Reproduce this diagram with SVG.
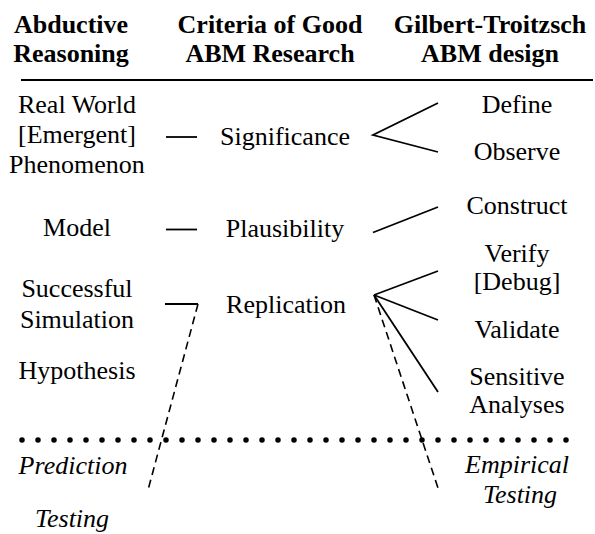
<svg xmlns="http://www.w3.org/2000/svg" width="595" height="534" viewBox="0 0 595 534">
<style>
text{font-size:26px;fill:#000;text-anchor:middle}
.h{font-weight:bold}
.i{font-style:italic}
.ln{stroke:#000;stroke-width:1.8;fill:none}
.ds{stroke:#000;stroke-width:1.6;fill:none;stroke-dasharray:8 5}
</style>
<rect width="595" height="534" fill="#fff"/>
<g font-family="Liberation Serif, serif">
<g id="headers">
<text class="h" x="71" y="33">Abductive</text>
<text class="h" x="71" y="62">Reasoning</text>
<text class="h" x="270" y="33">Criteria of Good</text>
<text class="h" x="270" y="62">ABM Research</text>
<text class="h" x="490" y="33">Gilbert-Troitzsch</text>
<text class="h" x="490" y="62">ABM design</text>
<line x1="21" y1="80" x2="593" y2="80" stroke="#000" stroke-width="2"/>
</g>
<g id="phenomenon"><text x="77" y="113">Real World</text><text x="77" y="143">[Emergent]</text><text x="77" y="172.5">Phenomenon</text></g>
<g id="model"><text x="77" y="236">Model</text></g>
<g id="simulation"><text x="77" y="296.5">Successful</text><text x="77" y="327.5">Simulation</text></g>
<g id="hypothesis"><text x="77" y="379">Hypothesis</text></g>
<g id="significance"><text x="285" y="145">Significance</text></g>
<g id="plausibility"><text x="285" y="236.5">Plausibility</text></g>
<g id="replication"><text x="286" y="313">Replication</text></g>
<g id="define"><text x="517" y="112.5">Define</text></g>
<g id="observe"><text x="517" y="160">Observe</text></g>
<g id="construct"><text x="517" y="214">Construct</text></g>
<g id="verify"><text x="517" y="261.5">Verify</text><text x="517" y="290">[Debug]</text></g>
<g id="validate"><text x="517" y="338">Validate</text></g>
<g id="sensitive"><text x="517" y="385">Sensitive</text><text x="517" y="413">Analyses</text></g>
<g id="prediction-testing"><text class="i" x="73" y="474">Prediction</text><text class="i" x="72" y="527">Testing</text></g>
<g id="empirical-testing"><text class="i" x="517" y="473">Empirical</text><text class="i" x="520" y="503">Testing</text></g>
</g>
<g id="divider"><line x1="22" y1="440" x2="582" y2="440" stroke="#000" stroke-width="5.5" stroke-linecap="round" stroke-dasharray="0 16"/></g>
<g id="connectors">
<line class="ln" x1="166" y1="137" x2="197" y2="137"/>
<line class="ln" x1="166" y1="229.5" x2="197" y2="229.5"/>
<line class="ln" x1="165" y1="304" x2="198" y2="304"/>
<line class="ds" x1="198" y1="304" x2="148" y2="490"/>
<polyline class="ln" points="438,103 373,135 438,152"/>
<line class="ln" x1="373" y1="232.5" x2="438" y2="207"/>
<line class="ln" x1="374" y1="295" x2="438" y2="271"/>
<line class="ln" x1="374" y1="295" x2="438" y2="320"/>
<line class="ln" x1="374" y1="295" x2="438" y2="392"/>
<line class="ds" x1="374" y1="295" x2="438" y2="488"/>
</g>
</svg>
